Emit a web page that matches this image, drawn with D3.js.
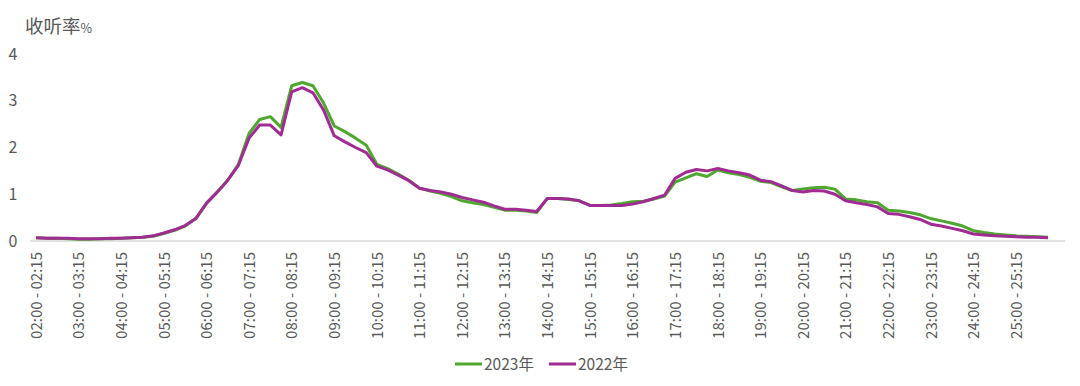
<!DOCTYPE html>
<html><head><meta charset="utf-8">
<script src="https://cdn.jsdelivr.net/npm/d3@7"></script>
<style>
body{margin:0;background:#fff;}
text{font-family:"Noto Sans CJK SC","Noto Sans",sans-serif;}
</style></head>
<body>
<svg id="c" width="1080" height="386"></svg>
<script>
// categories: 15-minute slots from 02:00 to 26:00
function fmt(m){const h=Math.floor(m/60),mm=m%60;return String(h).padStart(2,"0")+":"+String(mm).padStart(2,"0");}
const categories=[];
for(let i=0;i<96;i++){const s=120+15*i;categories.push(fmt(s)+" - "+fmt(s+15));}

const series2023=[0.07,0.06,0.06,0.05,0.04,0.04,0.05,0.05,0.06,0.07,0.08,0.10,0.16,0.23,0.32,0.48,
0.80,1.05,1.30,1.64,2.30,2.60,2.66,2.43,3.32,3.39,3.32,2.95,2.46,2.34,2.20,2.05,
1.64,1.55,1.43,1.30,1.13,1.07,1.02,0.95,0.86,0.82,0.78,0.72,0.66,0.66,0.64,0.61,
0.91,0.91,0.89,0.86,0.76,0.76,0.77,0.80,0.84,0.85,0.90,0.96,1.26,1.35,1.44,1.38,
1.52,1.46,1.42,1.36,1.28,1.25,1.16,1.08,1.11,1.14,1.15,1.11,0.90,0.88,0.84,0.82,
0.66,0.64,0.61,0.56,0.48,0.43,0.38,0.32,0.22,0.18,0.15,0.13,0.11,0.10,0.09,0.08];
const series2022=[0.07,0.06,0.06,0.06,0.05,0.05,0.05,0.06,0.06,0.07,0.08,0.11,0.17,0.24,0.33,0.48,
0.81,1.04,1.30,1.62,2.20,2.48,2.48,2.27,3.19,3.28,3.17,2.80,2.25,2.12,2.00,1.89,
1.60,1.52,1.41,1.29,1.13,1.08,1.05,1.00,0.93,0.88,0.83,0.75,0.68,0.68,0.66,0.63,
0.91,0.91,0.90,0.86,0.76,0.76,0.76,0.76,0.79,0.84,0.91,0.98,1.34,1.47,1.53,1.50,
1.55,1.50,1.46,1.41,1.30,1.27,1.18,1.08,1.05,1.08,1.07,1.00,0.86,0.82,0.78,0.73,
0.59,0.57,0.52,0.46,0.36,0.32,0.27,0.22,0.15,0.13,0.11,0.10,0.09,0.08,0.08,0.07];
const yTicks=[0,1,2,3,4];
const seriesNames=["2023年","2022年"];
const colors=["#4ea72e","#a02b93"];

const svg=d3.select("#c");
const x=d3.scalePoint().domain(categories).range([30.7,1053.3]).padding(0.5);
const y=d3.scaleLinear().domain([0,4]).range([241,54]);

// baseline
svg.append("line").attr("x1",30).attr("x2",1065).attr("y1",y(0)).attr("y2",y(0))
  .attr("stroke","#d9d9d9").attr("stroke-width",1.3);

// y axis
const ya=svg.append("g").attr("transform","translate(30,0)")
  .call(d3.axisLeft(y).tickValues(yTicks).tickSize(0).tickPadding(13).tickFormat(d3.format("d")));
ya.select(".domain").remove();
ya.selectAll("text").attr("fill","#595959").style("font-size","16px").attr("text-anchor","middle").attr("dx","-4");

// x axis labels
const xa=svg.append("g").attr("transform","translate(0,"+y(0)+")")
  .call(d3.axisBottom(x).tickValues(categories.filter((d,i)=>i%4===0)).tickSize(0));
xa.select(".domain").remove();
xa.selectAll("text").attr("fill","#595959").style("font-size","15px")
  .attr("transform","rotate(-90)").attr("text-anchor","end").attr("x",-11).attr("y",0).attr("dy","0.35em");

// lines
const line=d3.line().x((d,i)=>x(categories[i])).y(d=>y(d));
[series2023,series2022].forEach((s,k)=>{
  svg.append("path").datum(s).attr("d",line).attr("fill","none")
    .attr("stroke",colors[k]).attr("stroke-width",3).attr("stroke-linejoin","round");
});

// title
const t=svg.append("text").attr("x",25).attr("y",33).attr("fill","#595959").style("font-size","18.5px");
t.append("tspan").text("收听率");
t.append("tspan").text("%").style("font-size","12.5px");

// legend
const lg=[{x:455},{x:549}];
seriesNames.forEach((n,k)=>{
  svg.append("line").attr("x1",lg[k].x).attr("x2",lg[k].x+27).attr("y1",364).attr("y2",364)
    .attr("stroke",colors[k]).attr("stroke-width",3);
  svg.append("text").attr("x",lg[k].x+29).attr("y",369.5).attr("fill","#595959").style("font-size","15.5px").text(n);
});
</script>
</body></html>
